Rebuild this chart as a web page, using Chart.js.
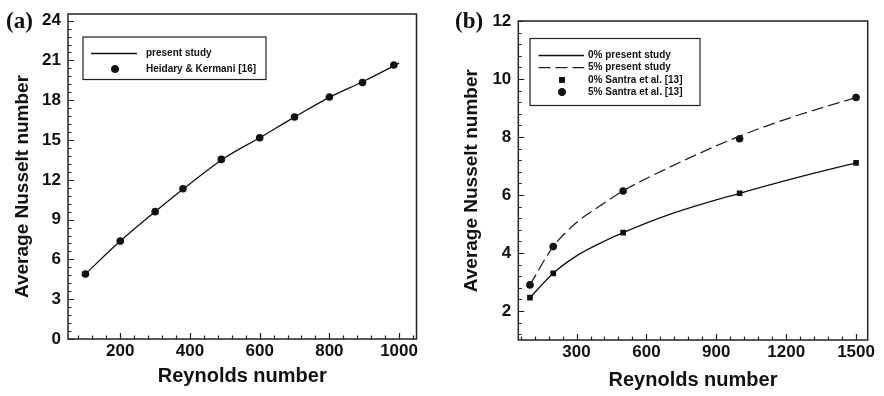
<!DOCTYPE html>
<html>
<head>
<meta charset="utf-8">
<script src="https://cdn.jsdelivr.net/npm/chart.js@4.4.1/dist/chart.umd.min.js"></script>
<style>
  body { margin: 0; background: #fff; }
  .wrap { position: relative; width: 884px; height: 396px; }
  canvas { position: absolute; top: 0; }
  #chartA { left: 0; }
  #chartB { left: 442px; }
</style>
</head>
<body>
<div class="wrap">
  <canvas id="chartA" width="442" height="396"></canvas>
  <canvas id="chartB" width="442" height="396"></canvas>
</div>
<script>
// Panel (a) data
const reHeidary = [100, 200, 300, 380, 490, 600, 700, 800, 895, 985];
const nuHeidary = [4.9, 7.38, 9.6, 11.33, 13.54, 15.17, 16.73, 18.24, 19.34, 20.65];
const reLineA = [100, 200, 300, 400, 500, 600, 700, 800, 900, 1000];
const nuPresentA = [4.9, 7.38, 9.6, 11.7, 13.66, 15.17, 16.73, 18.22, 19.45, 20.8];
const xTicksA = [200, 400, 600, 800, 1000];
const yTicksA = [0, 3, 6, 9, 12, 15, 18, 21, 24];

// Panel (b) data
const reSantra = [100, 200, 500, 1000, 1500];
const nu0Santra = [2.46, 3.3, 4.7, 6.06, 7.11];
const nu5Santra = [2.9, 4.22, 6.14, 7.94, 9.36];
const reLineB = [100, 200, 300, 400, 500, 700, 1000, 1250, 1500];
const nu0Present = [2.46, 3.3, 3.9, 4.33, 4.7, 5.33, 6.06, 6.61, 7.11];
const nu5Present = [2.9, 4.22, 5.05, 5.62, 6.14, 6.96, 8.03, 8.75, 9.36];
const xTicksB = [300, 600, 900, 1200, 1500];
const yTicksB = [2, 4, 6, 8, 10, 12];

const ink = '#111';
const fontFamily = '"Liberation Sans", Arial, sans-serif';

const toPoints = (xs, ys) => xs.map((x, i) => ({ x, y: ys[i] }));

// Frame, inward ticks, legend box, y title and panel label
const decorations = {
  id: 'decorations',
  afterDatasetsDraw(chart, args, o) {
    const { ctx, chartArea: a, scales: { x, y } } = chart;
    const isMajor = (list, v) => list.some(m => Math.abs(m - v) < 1e-6);

    ctx.save();
    ctx.strokeStyle = '#222';
    ctx.lineWidth = 1.5;
    ctx.strokeRect(a.left, a.top, a.right - a.left, a.bottom - a.top);

    ctx.lineWidth = 1.2;
    ctx.beginPath();
    for (let k = Math.ceil(x.min / o.xStep); k * o.xStep <= x.max + 1e-6; k++) {
      const v = k * o.xStep;
      const px = Math.round(x.getPixelForValue(v)) + 0.5;
      const len = isMajor(o.xMajor, v) ? 6 : 3.5;
      ctx.moveTo(px, a.bottom);
      ctx.lineTo(px, a.bottom - len);
    }
    for (let k = Math.ceil(y.min / o.yStep - 1e-6); k * o.yStep <= y.max + 1e-6; k++) {
      const v = k * o.yStep;
      const py = Math.round(y.getPixelForValue(v)) + 0.5;
      const len = isMajor(o.yMajor, v) ? 6 : 3.5;
      ctx.moveTo(a.left, py);
      ctx.lineTo(a.left + len, py);
    }
    ctx.stroke();

    // legend
    const L = o.legend;
    ctx.lineWidth = 1.2;
    ctx.strokeStyle = '#222';
    ctx.strokeRect(L.box[0], L.box[1], L.box[2] - L.box[0], L.box[3] - L.box[1]);
    ctx.font = `bold 10px ${fontFamily}`;
    ctx.textBaseline = 'middle';
    ctx.textAlign = 'left';
    L.rows.forEach(row => {
      const ds = chart.data.datasets[row.ds];
      if (ds.showLine) {
        ctx.save();
        ctx.strokeStyle = ds.borderColor;
        ctx.lineWidth = ds.borderWidth;
        ctx.setLineDash(ds.borderDash || []);
        ctx.beginPath();
        ctx.moveTo(L.lineX[0], row.y);
        ctx.lineTo(L.lineX[1], row.y);
        ctx.stroke();
        ctx.restore();
      } else {
        Chart.helpers.drawPoint(ctx, {
          pointStyle: ds.pointStyle, radius: ds.pointRadius, borderWidth: 0, rotation: 0
        }, L.markerX, row.y);
        ctx.fillStyle = ds.pointBackgroundColor;
        ctx.fill();
      }
      ctx.fillStyle = ink;
      ctx.fillText(ds.label, L.textX, row.y);
    });

    // y axis title
    ctx.save();
    ctx.translate(o.yTitle.x, o.yTitle.y);
    ctx.rotate(-Math.PI / 2);
    ctx.font = `bold 19px ${fontFamily}`;
    ctx.textAlign = 'center';
    ctx.textBaseline = 'alphabetic';
    ctx.fillStyle = ink;
    ctx.fillText('Average Nusselt number', 0, 0);
    ctx.restore();

    // panel label
    ctx.font = 'bold 23px "Liberation Serif", "Times New Roman", serif';
    ctx.textAlign = 'left';
    ctx.textBaseline = 'alphabetic';
    ctx.fillStyle = ink;
    ctx.fillText(o.panel.text, o.panel.x, o.panel.y);
    ctx.restore();
  }
};

const tickFont = { family: fontFamily, size: 17, weight: 'bold' };

const xAxis = (min, max, ticks, height, titlePad) => ({
  type: 'linear',
  min,
  max,
  afterBuildTicks: s => { s.ticks = ticks.map(value => ({ value })); },
  afterFit: s => { s.height = height; s.paddingLeft = 0; s.paddingRight = 0; },
  grid: { display: false, drawTicks: false },
  border: { display: false },
  ticks: {
    font: tickFont, color: ink, padding: 2, maxRotation: 0, autoSkip: false,
    callback: value => String(value),
  },
  title: {
    display: true,
    text: 'Reynolds number',
    color: ink,
    font: { family: fontFamily, size: 20, weight: 'bold' },
    padding: { top: 0, bottom: titlePad },
  },
});

const yAxis = (min, max, ticks, width) => ({
  type: 'linear',
  min,
  max,
  afterBuildTicks: s => { s.ticks = ticks.map(value => ({ value })); },
  afterFit: s => { s.width = width; s.paddingTop = 0; s.paddingBottom = 0; },
  grid: { display: false, drawTicks: false },
  border: { display: false },
  ticks: { font: tickFont, color: ink, padding: 7, autoSkip: false, callback: value => String(value) },
});

const baseOptions = {
  responsive: false,
  animation: false,
  events: [],
  plugins: { legend: { display: false }, tooltip: { enabled: false } },
};

// Panel (a)
new Chart(document.getElementById('chartA'), {
  type: 'scatter',
  data: {
    datasets: [
      {
        label: 'present study',
        data: toPoints(reLineA, nuPresentA),
        showLine: true,
        borderColor: ink,
        borderWidth: 1.3,
        pointRadius: 0,
        cubicInterpolationMode: 'monotone',
      },
      {
        label: 'Heidary & Kermani [16]',
        data: toPoints(reHeidary, nuHeidary),
        showLine: false,
        pointStyle: 'circle',
        pointRadius: 3.8,
        pointBorderWidth: 0,
        pointBackgroundColor: ink,
      },
    ],
  },
  options: {
    ...baseOptions,
    layout: { padding: { top: 14, right: 25.5, left: 0, bottom: 0 } },
    scales: {
      x: xAxis(50, 1050, xTicksA, 57, 8),
      y: yAxis(0, 24.5, yTicksA, 68),
    },
    plugins: {
      ...baseOptions.plugins,
      decorations: {
        xStep: 40, yStep: 0.6, xMajor: xTicksA, yMajor: yTicksA,
        panel: { text: '(a)', x: 6, y: 28 },
        yTitle: { x: 28, y: 186.5 },
        legend: {
          box: [83, 37, 266, 79.5],
          lineX: [91, 137],
          markerX: 115,
          textX: 146,
          rows: [{ ds: 0, y: 53.5 }, { ds: 1, y: 69 }],
        },
      },
    },
  },
  plugins: [decorations],
});

// Panel (b)
new Chart(document.getElementById('chartB'), {
  type: 'scatter',
  data: {
    datasets: [
      {
        label: '0% present study',
        data: toPoints(reLineB, nu0Present),
        showLine: true,
        borderColor: ink,
        borderWidth: 1.3,
        pointRadius: 0,
        cubicInterpolationMode: 'monotone',
      },
      {
        label: '5% present study',
        data: toPoints(reLineB, nu5Present),
        showLine: true,
        borderColor: '#222',
        borderWidth: 1.3,
        borderDash: [12, 5],
        pointRadius: 0,
        cubicInterpolationMode: 'monotone',
      },
      {
        label: '0% Santra et al. [13]',
        data: toPoints(reSantra, nu0Santra),
        showLine: false,
        pointStyle: 'rect',
        pointRadius: 4,
        pointBorderWidth: 0,
        pointBackgroundColor: ink,
      },
      {
        label: '5% Santra et al. [13]',
        data: toPoints(reSantra, nu5Santra),
        showLine: false,
        pointStyle: 'circle',
        pointRadius: 3.8,
        pointBorderWidth: 0,
        pointBackgroundColor: ink,
      },
    ],
  },
  options: {
    ...baseOptions,
    layout: { padding: { top: 21, right: 16.3, left: 0, bottom: 0 } },
    scales: {
      x: xAxis(50, 1550, xTicksB, 56, 4),
      y: yAxis(1, 12, yTicksB, 76.3),
    },
    plugins: {
      ...baseOptions.plugins,
      decorations: {
        xStep: 60, yStep: 0.4, xMajor: xTicksB, yMajor: yTicksB,
        panel: { text: '(b)', x: 13, y: 28 },
        yTitle: { x: 35, y: 180.7 },
        legend: {
          box: [88, 38.5, 258, 105.5],
          lineX: [96.5, 142],
          markerX: 120,
          textX: 146,
          rows: [
            { ds: 0, y: 55.5 },
            { ds: 1, y: 67.7 },
            { ds: 2, y: 79.9 },
            { ds: 3, y: 92.1 },
          ],
        },
      },
    },
  },
  plugins: [decorations],
});
</script>
</body>
</html>
